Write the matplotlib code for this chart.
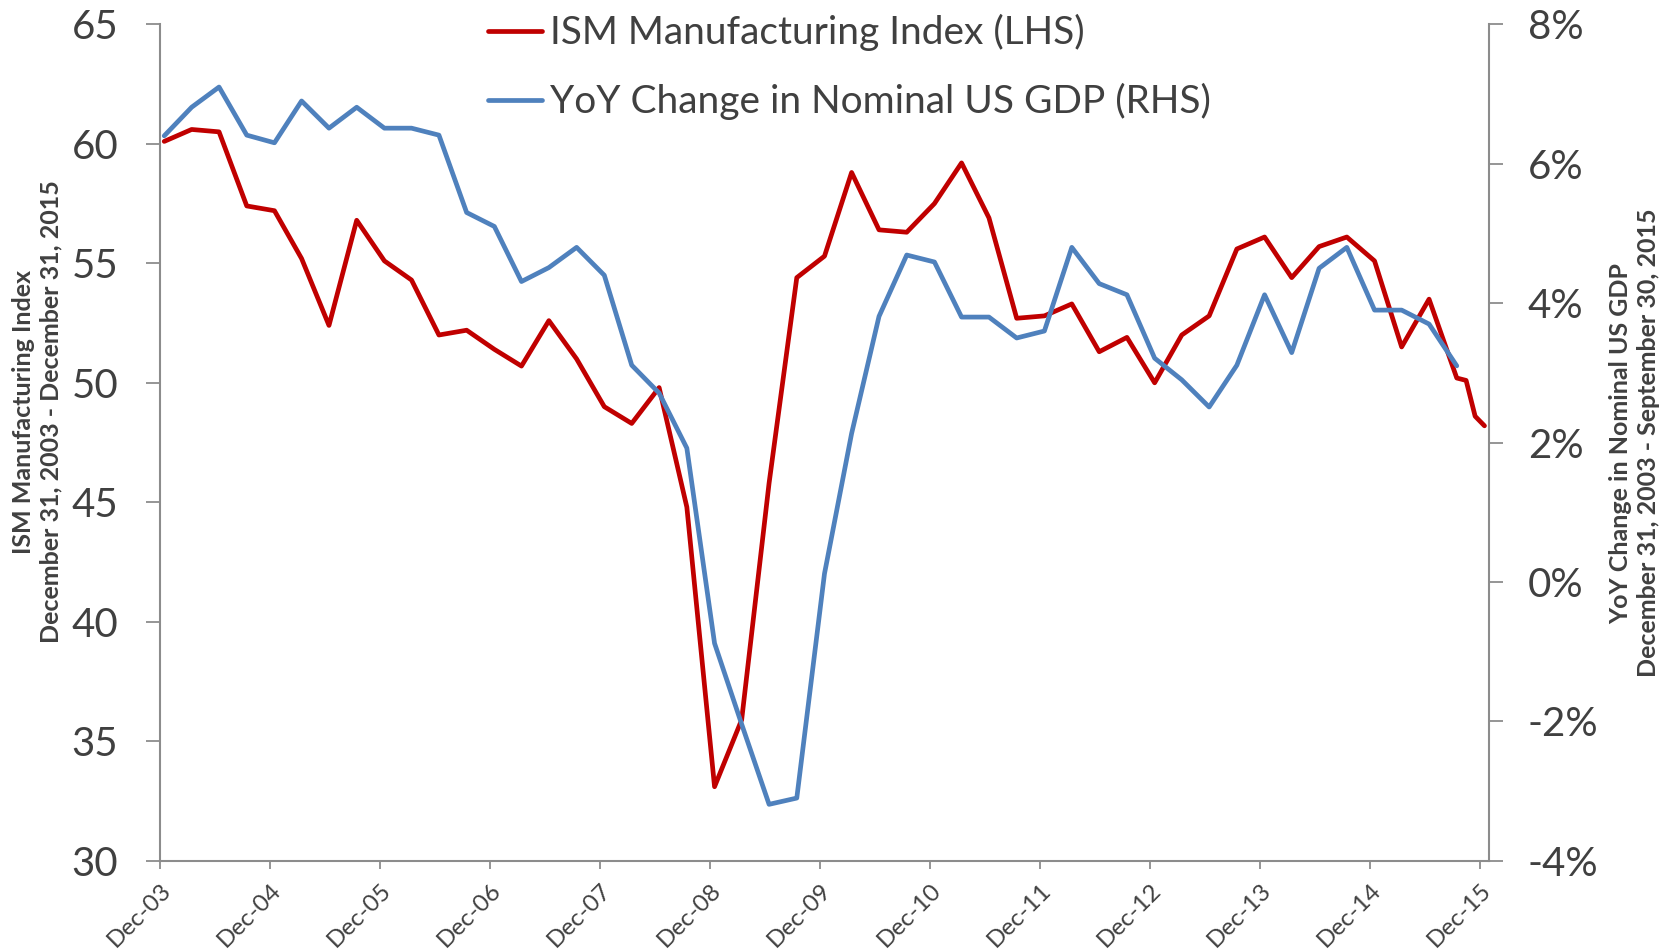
import matplotlib
matplotlib.use("Agg")
import matplotlib.pyplot as plt
from matplotlib.ticker import FuncFormatter
import pandas as pd

# ---------------- data ----------------
quarter_dates = pd.date_range("2003-12-31", "2015-09-30", freq="QE")
monthly_tail = pd.to_datetime(["2015-10-31", "2015-11-30", "2015-12-31"])
ism_dates = quarter_dates.append(monthly_tail)
gdp_dates = quarter_dates

ism_values = [
    60.1, 60.6, 60.5, 57.4, 57.2, 55.2, 52.4, 56.8, 55.1, 54.3, 52.0, 52.2,
    51.4, 50.7, 52.6, 51.0, 49.0, 48.3, 49.8, 44.8, 33.1, 35.9, 45.8, 54.4,
    55.3, 58.8, 56.4, 56.3, 57.5, 59.2, 56.9, 52.7, 52.8, 53.3, 51.3, 51.9,
    50.0, 52.0, 52.8, 55.6, 56.1, 54.4, 55.7, 56.1, 55.1, 51.5, 53.5, 50.2,
    50.1, 48.6, 48.2,
]
gdp_yoy_pct = [
    6.40, 6.81, 7.10, 6.41, 6.30, 6.90, 6.51, 6.81, 6.51, 6.51, 6.41, 5.30,
    5.10, 4.31, 4.51, 4.80, 4.40, 3.11, 2.71, 1.92, -0.88, -2.04, -3.19, -3.10,
    0.12, 2.13, 3.81, 4.69, 4.59, 3.80, 3.80, 3.50, 3.60, 4.80, 4.28, 4.12,
    3.21, 2.90, 2.51, 3.11, 4.12, 3.29, 4.50, 4.80, 3.90, 3.90, 3.70, 3.10,
]
tick_labels = ["Dec-03", "Dec-04", "Dec-05", "Dec-06", "Dec-07", "Dec-08", "Dec-09",
               "Dec-10", "Dec-11", "Dec-12", "Dec-13", "Dec-14", "Dec-15"]
tick_dates = pd.to_datetime([f"{y}-12-17" for y in range(2003, 2016)])
left_ticks = [30, 35, 40, 45, 50, 55, 60, 65]
right_ticks = [-4, -2, 0, 2, 4, 6, 8]

series_names = ["ISM Manufacturing Index (LHS)", "YoY Change in Nominal US GDP (RHS)"]
left_label = "ISM Manufacturing Index\nDecember 31, 2003 - December 31, 2015"
right_label = "YoY Change in Nominal US GDP\nDecember 31, 2003 - September 30, 2015"

# ---------------- style ----------------
plt.rcParams["font.family"] = ["Lato", "DejaVu Sans"]
TXT = "#404040"
AXC = "#8c8c8c"
RED = "#C00000"
BLUE = "#4F81BD"

fig = plt.figure(figsize=(16.65, 9.5), dpi=100)
ax = fig.add_axes([160 / 1665, 1 - 860.8 / 950, (1489 - 160) / 1665, (860.8 - 24.3) / 950])
ax2 = ax.twinx()

l1, = ax.plot(ism_dates, ism_values, color=RED, lw=3.4, solid_joinstyle="round",
              solid_capstyle="round", label=series_names[0])
l2, = ax2.plot(gdp_dates, gdp_yoy_pct, color=BLUE, lw=3.4, solid_joinstyle="round",
               solid_capstyle="round", label=series_names[1])

ax.set_xlim(pd.Timestamp("2003-12-17"), pd.Timestamp("2016-01-15"))
ax.set_ylim(30, 65)
ax2.set_ylim(-4, 8)

ax.set_yticks(left_ticks)
ax.set_yticklabels([str(t) for t in left_ticks])
ax2.set_yticks(right_ticks)
ax2.yaxis.set_major_formatter(FuncFormatter(lambda v, p: f"{v:.0f}%"))

ax.set_xticks(tick_dates)
ax.set_xticklabels(tick_labels, rotation=45, ha="right", va="top",
                   rotation_mode="anchor")

for a in (ax, ax2):
    a.spines["top"].set_visible(False)
    for s in ("left", "right", "bottom"):
        a.spines[s].set_color(AXC)
        a.spines[s].set_linewidth(1.5)
    a.patch.set_visible(False)
ax.spines["right"].set_visible(False)
ax2.spines["left"].set_visible(False)
ax2.spines["bottom"].set_visible(False)

ax.tick_params(axis="y", direction="out", length=10, width=1.3, color=AXC,
               labelsize=29, labelcolor=TXT, pad=20)
ax2.tick_params(axis="y", direction="out", length=10, width=1.3, color=AXC,
                labelsize=29, labelcolor=TXT, pad=18)
ax.tick_params(axis="x", direction="out", length=6, width=1.3, color=AXC,
               labelsize=17.5, labelcolor=TXT, pad=7.5)

fig.text(37 / 1665, 1 - 412 / 950, left_label, rotation=90, ha="center", va="center",
         multialignment="center", fontsize=18, fontweight="bold", color=TXT,
         linespacing=1.25)
fig.text(1635 / 1665, 1 - 443 / 950, right_label, rotation=90, ha="center", va="center",
         multialignment="center", fontsize=18, fontweight="bold", color=TXT,
         linespacing=1.25)

leg = ax2.legend(handles=[l1, l2], loc="upper left",
                 bbox_to_anchor=(488 / 1665, 1 - 14 / 950), bbox_transform=fig.transFigure,
                 frameon=False, fontsize=28, labelcolor=TXT, handlelength=1.4,
                 handletextpad=0.2, labelspacing=0.82, borderaxespad=0, borderpad=0)

fig.savefig("out.png", dpi=100, facecolor="white")
